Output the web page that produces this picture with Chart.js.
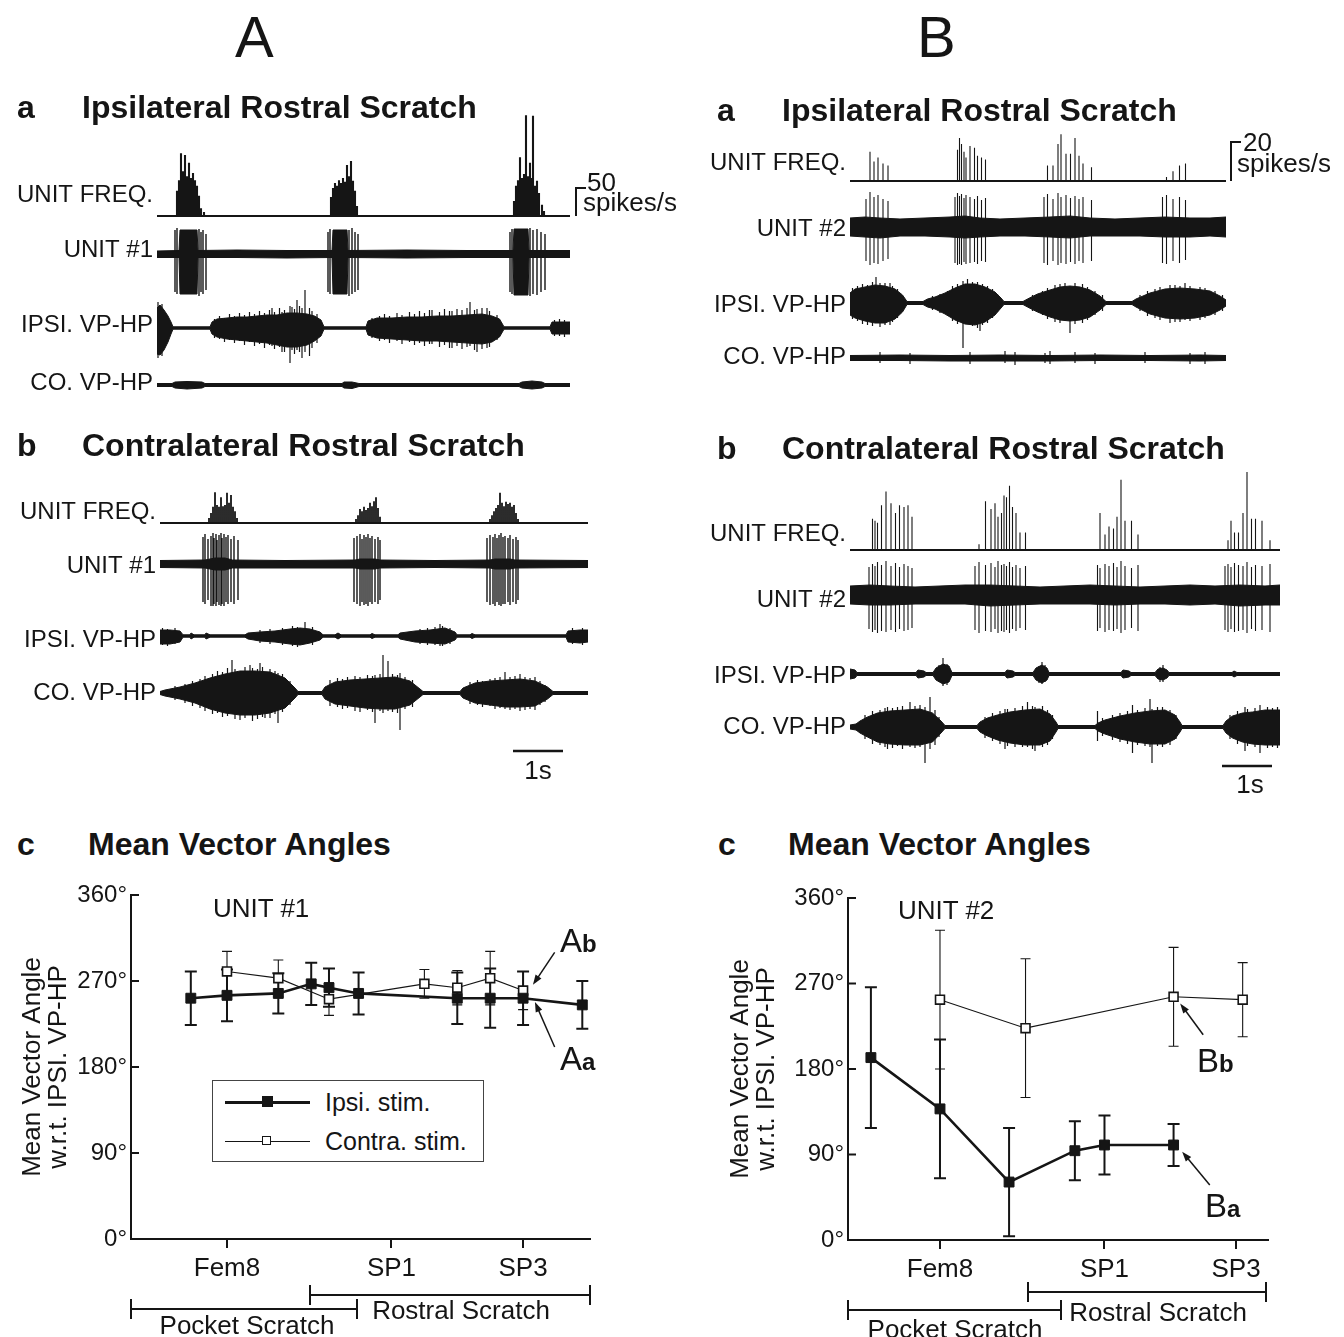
<!DOCTYPE html>
<html>
<head>
<meta charset="utf-8">
<script src="https://cdn.jsdelivr.net/npm/chart.js@4.4.1/dist/chart.umd.min.js"></script>
<style>
  html, body { margin: 0; padding: 0; background: #fff; }
  #page { position: relative; width: 1344px; height: 1337px; overflow: hidden;
          font-family: "Liberation Sans", Arial, Helvetica, sans-serif; color: #151515; }
  .t { position: absolute; white-space: nowrap; line-height: 1; }
  canvas { position: absolute; }
  .ln { position: absolute; background: #151515; }
</style>
</head>
<body>
<div id="page"></div>
<script>
const INK = '#151515';
const FONT = '"Liberation Sans", Arial, Helvetica, sans-serif';

// ---------- A a : ipsilateral rostral scratch, unit #1 (t in s) ----------
// rate spikes: [t, spikes/s]
const aaFreq = [
  [0.40,45],[0.44,64],[0.48,112],[0.52,80],[0.56,109],[0.60,71],[0.64,95],[0.68,68],[0.72,77],[0.76,64],[0.80,54],[0.84,36],[0.88,14],[0.94,7],
  [3.48,34],[3.52,50],[3.56,59],[3.60,54],[3.64,64],[3.68,59],[3.72,68],[3.76,61],[3.80,91],[3.84,71],[3.88,98],[3.92,63],[3.96,45],[4.00,18],
  [7.14,27],[7.18,54],[7.22,64],[7.26,105],[7.30,68],[7.34,75],[7.38,180],[7.42,71],[7.46,95],[7.50,68],[7.52,179],[7.56,54],[7.60,63],[7.64,41],[7.70,20],[7.74,9]
];
// envelopes: [t, up, down]   spikes: [t, up, down]
const aaUnitEnv = [
  [0,3,3.5],[0.44,3.5,3.5],[0.46,24,40],[0.80,24,40],[0.82,3.5,3.5],[1.6,4,3.5],[2.6,3.5,4],
  [3.50,3.5,3.5],[3.52,24,40],[3.80,24,40],[3.82,3.5,3.5],[5.0,4,4],[6.2,3.5,3.5],
  [7.12,3.5,3.5],[7.14,25,41],[7.42,25,41],[7.44,3.5,3.5],[8.26,3.5,3.5]
];
const aaUnitSpk = [
  [0.36,24,38],[0.40,26,40],[0.84,25,42],[0.88,22,38],[0.92,24,40],[0.98,20,36],
  [3.42,22,38],[3.46,25,40],[3.84,24,42],[3.90,26,40],[3.96,22,38],[4.02,20,36],
  [7.06,22,38],[7.10,25,40],[7.46,26,42],[7.52,24,40],[7.60,25,41],[7.68,22,38],[7.76,20,36]
];
const aaIpsiEnv = [
  [0,20,26],[0.06,23,27],[0.14,18,22],[0.22,12,14],[0.28,6,6],[0.32,1.2,1.2],
  [1.06,1.2,1.2],[1.10,6,6],[1.2,9,9],[1.4,10,11],[1.6,11,12],[1.8,11,13],[2.0,12,14],[2.2,13,15],[2.4,13,17],[2.6,15,19],[2.8,15,19],[3.0,14,17],[3.15,12,13],[3.28,8,8],[3.34,1.2,1.2],
  [4.18,1.2,1.2],[4.22,7,7],[4.4,10,10],[4.7,10,11],[5.0,11,12],[5.3,11,13],[5.6,12,13],[5.9,12,14],[6.2,13,15],[6.5,14,16],[6.7,12,14],[6.85,9,9],[6.94,1.2,1.2],
  [7.86,1.2,1.2],[7.90,6,6],[8.1,6,6],[8.26,6,6]
];
const aaIpsiSpk = [
  [0.02,26,30],[0.1,24,28],
  [1.15,9,10],[1.25,12,11],[1.35,10,14],[1.45,14,12],[1.55,12,15],[1.65,15,13],[1.75,13,17],[1.85,16,14],[1.95,14,18],[2.05,17,16],[2.15,15,20],
  [2.25,18,17],[2.3,20,18],[2.35,16,21],[2.45,20,19],[2.5,16,24],[2.55,18,24],[2.66,22,35],[2.7,21,22],[2.75,19,26],[2.8,28,22],[2.85,22,24],[2.9,20,30],
  [2.96,38,24],[3.05,20,28],[3.1,17,20],[3.2,14,15],
  [4.3,10,10],[4.45,12,13],[4.55,14,12],[4.65,12,15],[4.8,15,13],[4.9,13,16],[5.05,16,14],[5.15,14,17],[5.25,17,15],[5.35,15,18],[5.45,18,16],[5.5,18,16],
  [5.65,16,19],[5.75,19,17],[5.85,17,20],[5.9,17,20],[6.0,19,18],[6.1,18,21],[6.2,20,19],[6.26,26,18],[6.35,18,22],[6.4,19,24],[6.5,20,21],[6.6,20,20],[6.65,17,19],[6.8,13,12],
  [7.95,8,8],[8.05,9,8],[8.15,8,9]
];
const aaCoEnv = [
  [0,1.5,1.5],[0.3,1.5,1.5],[0.36,3,3],[0.6,3.5,4],[0.9,3,3],[0.96,1.5,1.5],
  [3.7,1.5,1.5],[3.74,3,3],[3.9,3,3.5],[4.04,1.5,1.5],
  [7.24,1.5,1.5],[7.3,3,3],[7.5,4,4],[7.7,3,3],[7.76,1.5,1.5],[8.26,1.5,1.5]
];

// ---------- A b : contralateral rostral scratch, unit #1 ----------
const abFreq = [
  [0.98,9],[1.02,18],[1.06,29],[1.10,55],[1.14,32],[1.18,29],[1.22,46],[1.26,30],[1.30,32],[1.34,54],[1.38,36],[1.42,50],[1.46,29],[1.50,21],[1.54,9],
  [3.92,7],[3.96,14],[4.00,25],[4.04,21],[4.08,29],[4.12,23],[4.16,27],[4.20,36],[4.24,30],[4.28,39],[4.32,46],[4.36,27],[4.40,11],
  [6.60,7],[6.64,14],[6.68,21],[6.72,27],[6.76,32],[6.80,54],[6.84,36],[6.88,30],[6.92,38],[6.96,34],[7.00,36],[7.04,29],[7.08,32],[7.12,18],[7.16,7]
];
const abUnitEnv = [
  [0,3.5,3.5],[0.9,4,4],[1.1,6,6],[1.3,6,6],[1.45,4,4],[2.5,3.5,4],[3.9,4,4],[4.0,5,5],[4.3,5,5],[4.4,4,4],
  [5.5,3.5,3.5],[6.6,4,4],[6.7,5,5],[7.0,5,5],[7.1,4,4],[8.56,3.5,3.5]
];
const abUnitSpk = [
  [0.86,27,38],[0.90,30,40],[0.96,25,36],[1.02,28,42],[1.06,31,42],[1.08,26,40],[1.12,30,42],[1.14,24,38],[1.18,29,41],[1.22,31,42],[1.24,26,40],[1.28,30,42],[1.32,27,38],[1.36,29,40],[1.42,25,38],[1.48,28,40],[1.56,24,36],
  [3.88,26,38],[3.94,28,40],[4.00,30,42],[4.04,25,38],[4.08,29,41],[4.12,27,40],[4.16,30,42],[4.20,26,38],[4.24,28,40],[4.30,25,38],[4.36,27,40],[4.40,24,36],
  [6.54,26,38],[6.60,29,41],[6.66,27,40],[6.70,30,42],[6.74,26,38],[6.78,29,41],[6.82,31,42],[6.86,27,40],[6.90,28,40],[6.96,26,38],[7.00,29,41],[7.06,25,38],[7.12,27,40],[7.16,24,36]
];
const abIpsiEnv = [
  [0,6,8],[0.2,6,8],[0.4,5,6],[0.46,1.2,1.2],[0.6,1.2,1.2],[0.62,3,3],[0.68,1.2,1.2],[0.9,1.2,1.2],[0.92,3,3],[1.0,1.2,1.2],
  [1.7,1.2,1.2],[1.76,3,3],[2.0,4,5],[2.3,5,6],[2.6,7,8],[2.8,8,9],[3.0,7,7],[3.2,4,4],[3.26,1.2,1.2],
  [3.5,1.2,1.2],[3.56,3,3],[3.62,1.2,1.2],[4.2,1.2,1.2],[4.24,2.5,2.5],[4.3,1.2,1.2],
  [4.76,1.2,1.2],[4.8,3,3],[5.1,5,6],[5.4,6,7],[5.7,8,8],[5.9,4,4],[5.94,1.2,1.2],
  [6.2,1.2,1.2],[6.24,2.5,2.5],[6.3,1.2,1.2],[8.12,1.2,1.2],[8.16,5,6],[8.4,6,7],[8.56,6,6]
];
const abIpsiSpk = [
  [0.05,8,9],[0.15,7,10],[0.3,8,8],
  [2.0,6,7],[2.2,7,8],[2.45,8,9],[2.65,10,10],[2.75,9,11],[2.9,14,8],[3.05,9,9],
  [5.2,7,8],[5.35,8,9],[5.5,9,9],[5.6,12,10],[5.65,10,10],[5.8,8,8],[8.25,8,8],[8.45,8,9]
];
const abCoEnv = [
  [0,1.5,1.5],[0.1,3,3],[0.4,6,6],[0.7,10,10],[1.0,15,16],[1.3,19,20],[1.6,22,22],[1.9,22,22],[2.2,21,20],[2.5,15,15],[2.7,5,5],[2.76,1.5,1.5],
  [3.24,1.5,1.5],[3.3,6,6],[3.5,11,11],[3.8,13,13],[4.1,14,15],[4.4,15,16],[4.7,16,16],[5.0,12,12],[5.2,4,4],[5.26,1.5,1.5],
  [6.0,1.5,1.5],[6.06,5,5],[6.3,10,10],[6.6,12,12],[6.9,13,14],[7.2,14,14],[7.5,12,13],[7.75,6,6],[7.86,1.5,1.5],[8.56,1.5,1.5]
];
const abCoSpk = [
  [0.3,7,7],[0.5,9,10],[0.65,12,13],[0.8,14,15],[0.9,17,18],[1.05,19,21],[1.15,22,20],[1.25,21,24],[1.35,25,23],[1.44,33,18],[1.5,24,26],
  [1.6,20,27],[1.7,26,25],[1.8,28,20],[1.85,25,28],[1.95,24,26],[2.0,30,22],[2.05,26,24],[2.1,18,25],[2.2,24,25],[2.3,22,21],[2.36,20,30],[2.45,19,19],[2.6,12,12],
  [3.4,13,13],[3.55,15,14],[3.65,14,16],[3.75,16,15],[3.9,17,18],[4.0,16,19],[4.15,18,17],[4.25,17,19],[4.3,18,30],[4.4,19,18],[4.46,38,20],
  [4.56,32,18],[4.65,19,19],[4.75,18,20],[4.8,20,37],[4.9,16,16],[5.05,13,14],
  [6.2,11,11],[6.35,13,12],[6.45,12,14],[6.6,14,13],[6.7,15,16],[6.8,16,15],[6.9,21,16],[7.0,16,17],[7.1,17,16],[7.2,19,18],[7.3,16,17],[7.4,15,16],[7.5,16,17],[7.6,12,12],[7.7,8,9]
];

// ---------- B a : ipsilateral rostral scratch, unit #2 ----------
const baFreq = [
  [0.40,15],[0.48,10],[0.56,12],[0.66,9],[0.76,8],
  [2.15,16],[2.19,22],[2.23,19],[2.28,15],[2.32,12],[2.40,18],[2.49,17],[2.55,13],[2.63,12],[2.71,11],
  [3.95,8],[4.06,8],[4.16,19],[4.22,24],[4.32,14],[4.41,14],[4.50,22],[4.58,13],[4.66,9],[4.83,7],
  [6.33,2],[6.46,5],[6.59,8],[6.71,9]
];
const baUnitEnv = [
  [0,9,9],[0.3,10,10],[0.6,9,11],[1.0,8,9],[1.5,9,9],[2.0,10,10],[2.3,11,11],[2.6,9,10],[3.0,8,9],[3.5,9,9],
  [4.0,10,10],[4.4,11,11],[4.8,9,9],[5.3,8,9],[5.8,9,9],[6.3,10,10],[6.8,9,10],[7.2,9,9],[7.52,10,10]
];
const baUnitSpk = [
  [0.32,28,34],[0.40,35,38],[0.48,30,36],[0.56,32,37],[0.66,28,34],[0.76,26,32],
  [2.10,30,36],[2.15,34,38],[2.19,31,37],[2.23,33,38],[2.28,29,35],[2.32,32,37],[2.40,30,36],[2.49,28,35],[2.55,31,37],[2.63,27,34],[2.71,29,35],
  [3.88,30,36],[3.95,33,38],[4.06,28,34],[4.16,34,38],[4.22,30,36],[4.32,32,37],[4.41,29,35],[4.50,31,37],[4.58,28,34],[4.66,30,36],[4.83,27,34],
  [6.25,30,36],[6.33,32,37],[6.46,28,34],[6.59,30,36],[6.71,27,33]
];
const baIpsiEnv = [
  [0,10,12],[0.1,14,15],[0.3,16,18],[0.5,18,20],[0.7,17,20],[0.9,14,16],[1.05,8,9],[1.14,1.5,1.5],
  [1.46,1.5,1.5],[1.55,4,4],[1.7,6,6],[1.9,10,11],[2.1,15,17],[2.3,19,21],[2.5,19,22],[2.7,16,19],[2.9,11,12],[3.02,5,5],[3.08,1.5,1.5],
  [3.46,1.5,1.5],[3.55,4,4],[3.75,9,9],[4.0,13,14],[4.2,16,17],[4.4,17,18],[4.6,16,17],[4.8,13,14],[5.0,7,7],[5.12,1.5,1.5],
  [5.64,1.5,1.5],[5.72,4,4],[6.0,10,11],[6.3,14,15],[6.6,15,16],[6.9,14,15],[7.2,12,12],[7.4,7,7],[7.52,3,3]
];
const baIpsiSpk = [
  [0.05,15,16],[0.15,17,18],[0.25,19,21],[0.35,18,22],[0.45,21,23],[0.52,26,14],[0.6,20,24],[0.7,20,22],[0.8,20,22],[0.85,17,19],[0.95,14,15],
  [1.65,7,7],[1.8,9,10],[1.95,12,13],[2.05,17,18],[2.15,19,21],[2.26,22,45],[2.35,24,18],[2.45,21,23],[2.55,21,25],[2.6,16,28],[2.65,19,22],[2.75,17,20],[2.85,14,15],[2.95,9,9],
  [3.65,8,8],[3.85,12,12],[3.95,15,16],[4.1,18,19],[4.2,19,20],[4.3,20,16],[4.4,14,30],[4.5,20,21],[4.65,19,20],[4.75,16,17],[4.9,12,12],[5.05,8,8],
  [5.8,8,8],[5.95,12,13],[6.1,14,15],[6.2,16,17],[6.4,18,20],[6.5,18,19],[6.6,17,19],[6.7,20,17],[6.8,17,18],[7.0,16,17],[7.1,15,15],[7.3,12,12],[7.45,8,8]
];
const baCoEnv = [[0,2.5,2.5],[1.0,3,2.5],[2.0,2.5,3],[3.0,3,3],[4.0,2.5,3],[5.0,3,2.5],[6.0,2.5,2.5],[7.0,3,3],[7.52,2.5,2.5]];
const baCoSpk = [[0.6,6,5],[1.2,5,6],[2.4,6,6],[3.1,7,5],[3.3,6,7],[3.9,5,5],[4.0,7,6],[4.5,6,5],[4.9,5,6],[5.9,6,5],[6.8,5,6],[7.1,6,6]];

// ---------- B b : contralateral rostral scratch, unit #2 ----------
const bbFreq = [
  [0.45,16],[0.50,15],[0.55,14],[0.63,23],[0.72,30],[0.82,24],[0.91,19],[0.99,23],[1.08,22],[1.16,23],[1.24,17],
  [2.58,3],[2.71,25],[2.82,21],[2.90,24],[2.96,17],[3.03,19],[3.08,28],[3.13,27],[3.19,33],[3.25,22],[3.32,19],[3.40,9],[3.51,9],
  [5.00,19],[5.10,8],[5.18,12],[5.27,11],[5.34,17],[5.42,36],[5.50,15],[5.63,15],[5.76,8],
  [7.56,5],[7.62,15],[7.69,9],[7.77,9],[7.86,19],[7.94,40],[8.03,16],[8.11,16],[8.24,15],[8.40,5]
];
const bbUnitEnv = [
  [0,9,9],[0.4,10,10],[0.8,9,10],[1.3,8,9],[1.8,9,9],[2.3,10,9],[2.8,10,11],[3.3,9,10],[3.8,8,9],[4.3,9,9],
  [4.8,10,9],[5.3,9,10],[5.8,8,9],[6.3,9,9],[6.8,10,10],[7.3,9,9],[7.8,10,11],[8.3,9,10],[8.6,10,10]
];
const bbUnitSpk = [
  [0.38,28,34],[0.45,31,37],[0.50,29,35],[0.55,33,38],[0.63,30,36],[0.72,34,37],[0.82,29,35],[0.91,32,37],[0.99,28,34],[1.08,31,36],[1.16,29,35],[1.24,27,33],
  [2.50,29,35],[2.58,33,38],[2.71,30,36],[2.82,32,37],[2.90,28,34],[2.96,34,38],[3.03,30,36],[3.08,31,37],[3.13,29,35],[3.19,33,38],[3.25,28,34],[3.32,30,36],[3.40,27,33],[3.51,29,35],
  [4.95,30,36],[5.00,27,33],[5.10,31,37],[5.18,29,35],[5.27,32,36],[5.34,28,34],[5.42,34,38],[5.50,29,35],[5.63,27,33],[5.76,30,36],
  [7.50,29,35],[7.56,31,37],[7.62,28,34],[7.69,32,37],[7.77,30,36],[7.86,29,35],[7.94,33,38],[8.03,28,34],[8.11,30,36],[8.24,29,35],[8.40,31,37]
];
const bbIpsiEnv = [
  [0,5,5],[0.1,4,4],[0.14,1.5,1.5],[1.32,1.5,1.5],[1.36,4,4],[1.48,3,3],[1.52,1.5,1.5],
  [1.66,1.5,1.5],[1.72,6,6],[1.86,10,10],[1.98,8,8],[2.04,1.5,1.5],
  [3.1,1.5,1.5],[3.14,4,4],[3.26,3,3],[3.3,1.5,1.5],[3.66,1.5,1.5],[3.72,6,6],[3.84,9,9],[3.94,6,6],[3.98,1.5,1.5],
  [5.42,1.5,1.5],[5.46,4,4],[5.58,3,3],[5.62,1.5,1.5],[6.1,1.5,1.5],[6.16,5,5],[6.26,6,6],[6.34,4,4],[6.38,1.5,1.5],
  [7.64,1.5,1.5],[7.68,3,3],[7.74,1.5,1.5],[8.6,1.5,1.5]
];
const bbIpsiSpk = [[1.78,9,8],[1.86,16,12],[1.94,10,11],[3.78,8,9],[3.84,12,10],[3.9,9,8],[6.2,7,8],[6.26,9,8]];
const bbCoEnv = [
  [0,2,2],[0.12,3,3],[0.2,6,6],[0.35,10,10],[0.55,14,15],[0.8,16,17],[1.1,17,18],[1.4,18,18],[1.65,14,15],[1.82,6,6],[1.9,1.5,1.5],
  [2.54,1.5,1.5],[2.6,5,5],[2.75,9,9],[2.95,12,13],[3.2,15,16],[3.5,17,18],[3.8,18,18],[4.0,13,14],[4.12,5,5],[4.16,1.5,1.5],
  [4.9,1.5,1.5],[4.96,4,4],[5.1,7,7],[5.4,11,12],[5.7,14,15],[6.0,16,17],[6.3,17,17],[6.5,12,12],[6.6,5,5],[6.64,1.5,1.5],
  [7.46,1.5,1.5],[7.52,6,6],[7.65,11,11],[7.85,14,15],[8.05,15,17],[8.3,17,18],[8.6,17,18]
];
const bbCoSpk = [
  [0.3,12,12],[0.45,16,17],[0.6,17,18],[0.7,19,20],[0.75,20,22],[0.85,19,21],[0.95,20,19],[1.05,21,22],[1.2,25,20],[1.3,21,21],[1.4,22,20],[1.5,20,36],[1.6,30,22],[1.7,17,18],[1.78,10,10],
  [2.7,10,11],[2.85,14,14],[3.0,16,17],[3.1,18,22],[3.15,18,19],[3.3,19,20],[3.45,21,20],[3.55,25,20],[3.65,21,22],[3.7,20,24],[3.85,21,20],[3.95,17,18],[4.05,12,12],
  [4.95,16,14],[5.05,9,9],[5.25,12,13],[5.4,14,15],[5.55,16,17],[5.65,22,26],[5.75,17,18],[5.9,19,19],[6.0,28,20],[6.04,18,36],[6.15,20,19],[6.25,20,20],[6.4,17,18],[6.52,12,12],
  [7.6,12,12],[7.75,16,17],[7.9,20,24],[7.95,18,19],[8.1,19,20],[8.2,22,26],[8.35,20,21],[8.45,19,20],[8.55,20,21]
];

// ---------- c : mean vector angles (deg), recording sites on a segment axis ----------
const segTicks = [0, 2.5, 4.5];
const segLabels = ['Fem8', 'SP1', 'SP3'];

const acIpsiPos = [-0.55, 0, 0.78, 1.28, 1.55, 2.0, 3.5, 4.0, 4.5, 5.4];
const acIpsiDeg = [252, 255, 257, 267, 263, 257, 252, 252, 252, 245];
const acIpsiErr = [28, 27, 21, 22, 20, 22, 27, 31, 28, 25];
const acContraPos = [0, 0.78, 1.55, 3.0, 3.5, 4.0, 4.5];
const acContraDeg = [280, 273, 251, 267, 263, 273, 260];
const acContraErr = [21, 19, 17, 15, 18, 28, 20];

const bcIpsiPos = [-1.05, 0, 1.05, 2.05, 2.5, 3.55];
const bcIpsiDeg = [192, 138, 61, 94, 100, 100];
const bcIpsiErr = [74, 73, 57, 31, 31, 22];
const bcContraPos = [0, 1.3, 3.55, 4.6];
const bcContraDeg = [253, 223, 256, 253];
const bcContraErr = [73, 73, 52, 39];

Chart.defaults.font.family = FONT;
Chart.defaults.color = INK;
Chart.defaults.animation = false;

const page = document.getElementById('page');

function addText(str, x, base, size, o = {}) {
  const d = document.createElement('div');
  d.className = 't';
  if (o.html) d.innerHTML = str; else d.textContent = str;
  d.style.fontSize = size + 'px';
  d.style.top = (base - 0.8465 * size).toFixed(1) + 'px';
  d.style.left = x + 'px';
  if (o.bold) d.style.fontWeight = 'bold';
  if (o.align === 'center') d.style.transform = 'translateX(-50%)';
  if (o.align === 'right') d.style.transform = 'translateX(-100%)';
  page.appendChild(d);
  return d;
}

function addLine(x, y, w, h) {
  const d = document.createElement('div');
  d.className = 'ln';
  Object.assign(d.style, { left: x + 'px', top: y + 'px', width: w + 'px', height: h + 'px' });
  page.appendChild(d);
}

function makeCanvas(left, top, w, h) {
  const c = document.createElement('canvas');
  c.width = w; c.height = h;
  Object.assign(c.style, { left: left + 'px', top: top + 'px', width: w + 'px', height: h + 'px' });
  page.appendChild(c);
  return c;
}

// scale bars for the trace panels (rate bracket and 1 s bar)
const scaleBars = {
  id: 'scaleBars',
  afterDraw(chart, args, opts) {
    const bars = opts.bars || [];
    const { ctx, chartArea, scales } = chart;
    ctx.save();
    ctx.strokeStyle = INK;
    ctx.lineWidth = 2;
    bars.forEach(b => {
      ctx.beginPath();
      if (b.kind === 'rate') {
        const off = b.base - opts.top;
        const x = chartArea.right + b.dx;
        const y0 = scales.y.getPixelForValue(off);
        const y1 = scales.y.getPixelForValue(off - b.value * b.gain);
        ctx.moveTo(x, y0); ctx.lineTo(x, y1); ctx.lineTo(x + 10, y1);
      } else {
        const y = scales.y.getPixelForValue(b.y - opts.top);
        ctx.lineWidth = 2.5;
        ctx.moveTo(scales.x.getPixelForValue(b.t0), y);
        ctx.lineTo(scales.x.getPixelForValue(b.t0 + b.len), y);
      }
      ctx.stroke();
    });
    ctx.restore();
  }
};

function tracePanel(p) {
  const cv = makeCanvas(p.left, p.top, p.width, p.height);
  const datasets = [];
  const line = (data, extra) => Object.assign({
    data, borderColor: INK, backgroundColor: INK, borderWidth: 1, pointRadius: 0,
    tension: 0, fill: false, borderJoinStyle: 'miter'
  }, extra);

  p.rows.forEach(r => {
    const off = r.base - p.top;
    datasets.push(line([{ x: 0, y: off }, { x: p.T, y: off }], { borderWidth: 2.2 }));
    if (r.env) {
      datasets.push(line(r.env.map(e => ({ x: e[0], y: off - e[1] * r.gain })), { fill: '+1' }));
      datasets.push(line(r.env.map(e => ({ x: e[0], y: off + e[2] * r.gain }))));
    }
    const spk = r.freq || r.spk;
    if (spk) {
      const pts = [];
      spk.forEach(s => {
        pts.push({ x: s[0], y: off - s[1] * r.gain });
        pts.push({ x: s[0], y: off + (s[2] || 0) * r.gain });
        pts.push({ x: s[0], y: null });
      });
      datasets.push(line(pts, { borderWidth: r.lw || 1.2 }));
    }
  });

  const labelAt = v => {
    const r = p.rows.find(q => Math.abs(q.labelY - p.top - v) < 0.01);
    return r ? r.label : '';
  };

  new Chart(cv, {
    type: 'line',
    data: { datasets },
    options: {
      responsive: false, devicePixelRatio: 1, events: [],
      layout: { padding: { left: 0, top: 0, bottom: 0, right: p.width - (p.plotRight - p.left) } },
      scales: {
        x: { type: 'linear', min: 0, max: p.T, display: false },
        y: {
          type: 'linear', min: 0, max: p.height, reverse: true,
          grid: { display: false, drawTicks: false },
          border: { display: false },
          afterFit: s => { s.width = p.plotLeft - p.left; s.paddingTop = 0; s.paddingBottom = 0; },
          afterBuildTicks: s => { s.ticks = p.rows.map(r => ({ value: r.labelY - p.top })); },
          ticks: { autoSkip: false, padding: 4, color: INK, font: { size: 24 }, callback: v => labelAt(v) }
        }
      },
      plugins: {
        legend: { display: false }, tooltip: { enabled: false },
        scaleBars: { top: p.top, bars: p.bars }
      }
    },
    plugins: [scaleBars]
  });
}

const panels = [
  { left: 0, top: 105, width: 690, height: 300, plotLeft: 157, plotRight: 570, T: 8.26,
    rows: [
      { label: 'UNIT FREQ.', labelY: 195, base: 216, gain: 0.56, freq: aaFreq, lw: 2.1 },
      { label: 'UNIT #1', labelY: 250, base: 254, gain: 1, env: aaUnitEnv, spk: aaUnitSpk, lw: 1.4 },
      { label: 'IPSI. VP-HP', labelY: 325, base: 328, gain: 1, env: aaIpsiEnv, spk: aaIpsiSpk },
      { label: 'CO. VP-HP', labelY: 383, base: 385, gain: 1, env: aaCoEnv }
    ],
    bars: [{ kind: 'rate', base: 216, value: 50, gain: 0.56, dx: 6 }] },
  { left: 0, top: 460, width: 690, height: 300, plotLeft: 160, plotRight: 588, T: 8.56,
    rows: [
      { label: 'UNIT FREQ.', labelY: 512, base: 523, gain: 0.56, freq: abFreq, lw: 1.8 },
      { label: 'UNIT #1', labelY: 566, base: 564, gain: 1, env: abUnitEnv, spk: abUnitSpk, lw: 1.4 },
      { label: 'IPSI. VP-HP', labelY: 640, base: 636, gain: 1, env: abIpsiEnv, spk: abIpsiSpk },
      { label: 'CO. VP-HP', labelY: 693, base: 693, gain: 1, env: abCoEnv, spk: abCoSpk }
    ],
    bars: [{ kind: 'time', t0: 7.06, len: 1, y: 751 }] },
  { left: 690, top: 125, width: 654, height: 260, plotLeft: 850, plotRight: 1226, T: 7.52,
    rows: [
      { label: 'UNIT FREQ.', labelY: 163, base: 181, gain: 1.95, freq: baFreq, lw: 1.1 },
      { label: 'UNIT #2', labelY: 229, base: 227, gain: 1, env: baUnitEnv, spk: baUnitSpk, lw: 1.1 },
      { label: 'IPSI. VP-HP', labelY: 305, base: 303, gain: 1, env: baIpsiEnv, spk: baIpsiSpk },
      { label: 'CO. VP-HP', labelY: 357, base: 358, gain: 1, env: baCoEnv, spk: baCoSpk }
    ],
    bars: [{ kind: 'rate', base: 181, value: 20, gain: 1.95, dx: 5 }] },
  { left: 690, top: 460, width: 654, height: 335, plotLeft: 850, plotRight: 1280, T: 8.6,
    rows: [
      { label: 'UNIT FREQ.', labelY: 534, base: 550, gain: 1.95, freq: bbFreq, lw: 1.1 },
      { label: 'UNIT #2', labelY: 600, base: 595, gain: 1, env: bbUnitEnv, spk: bbUnitSpk, lw: 1.1 },
      { label: 'IPSI. VP-HP', labelY: 676, base: 674, gain: 1, env: bbIpsiEnv, spk: bbIpsiSpk },
      { label: 'CO. VP-HP', labelY: 727, base: 727, gain: 1, env: bbCoEnv, spk: bbCoSpk }
    ],
    bars: [{ kind: 'time', t0: 7.44, len: 1, y: 766 }] }
];
panels.forEach(tracePanel);

// ---------- angle charts ----------
const errorBars = {
  id: 'errorBars',
  beforeDatasetsDraw(chart) {
    const { ctx, scales } = chart;
    ctx.save();
    ctx.strokeStyle = INK;
    chart.data.datasets.forEach((ds, i) => {
      const meta = chart.getDatasetMeta(i);
      ctx.lineWidth = ds.errWidth;
      ds.errors.forEach((e, j) => {
        const x = meta.data[j].x;
        const yHi = scales.y.getPixelForValue(ds.data[j].y + e);
        const yLo = scales.y.getPixelForValue(ds.data[j].y - e);
        ctx.beginPath();
        ctx.moveTo(x, yHi); ctx.lineTo(x, yLo);
        ctx.moveTo(x - ds.capHalf, yHi); ctx.lineTo(x + ds.capHalf, yHi);
        ctx.moveTo(x - ds.capHalf, yLo); ctx.lineTo(x + ds.capHalf, yLo);
        ctx.stroke();
      });
    });
    ctx.restore();
  },
  afterDraw(chart, args, opts) {
    const { ctx, scales, chartArea } = chart;
    ctx.save();
    ctx.strokeStyle = INK; ctx.fillStyle = INK;
    // inward y ticks
    ctx.lineWidth = 2;
    scales.y.ticks.forEach(t => {
      const y = scales.y.getPixelForValue(t.value);
      ctx.beginPath(); ctx.moveTo(chartArea.left, y); ctx.lineTo(chartArea.left + 8, y); ctx.stroke();
    });
    // label arrows
    ctx.lineWidth = 1.5;
    (opts.arrows || []).forEach(a => {
      const x0 = scales.x.getPixelForValue(a.from[0]), y0 = scales.y.getPixelForValue(a.from[1]);
      const x1 = scales.x.getPixelForValue(a.to[0]), y1 = scales.y.getPixelForValue(a.to[1]);
      const ang = Math.atan2(y1 - y0, x1 - x0);
      ctx.beginPath(); ctx.moveTo(x0, y0); ctx.lineTo(x1 - 6 * Math.cos(ang), y1 - 6 * Math.sin(ang)); ctx.stroke();
      ctx.beginPath();
      ctx.moveTo(x1, y1);
      ctx.lineTo(x1 - 10 * Math.cos(ang) + 3.5 * Math.sin(ang), y1 - 10 * Math.sin(ang) - 3.5 * Math.cos(ang));
      ctx.lineTo(x1 - 10 * Math.cos(ang) - 3.5 * Math.sin(ang), y1 - 10 * Math.sin(ang) + 3.5 * Math.cos(ang));
      ctx.closePath(); ctx.fill();
    });
    ctx.restore();
  }
};

function anglePanel(c) {
  const cv = makeCanvas(c.left, c.top, c.width, c.height);
  const pts = (pos, deg) => pos.map((x, i) => ({ x, y: deg[i] }));
  new Chart(cv, {
    type: 'line',
    data: {
      datasets: [
        { label: 'Ipsi. stim.', data: pts(c.ipsiPos, c.ipsiDeg), errors: c.ipsiErr, errWidth: 2, capHalf: 6,
          borderColor: INK, backgroundColor: INK, borderWidth: 2.6, tension: 0,
          pointStyle: 'rect', pointRadius: 7, pointBackgroundColor: INK, pointBorderColor: INK, pointBorderWidth: 1 },
        { label: 'Contra. stim.', data: pts(c.contraPos, c.contraDeg), errors: c.contraErr, errWidth: 1.1, capHalf: 5,
          borderColor: INK, backgroundColor: '#fff', borderWidth: 1.1, tension: 0,
          pointStyle: 'rect', pointRadius: 6.3, pointBackgroundColor: '#fff', pointBorderColor: INK, pointBorderWidth: 1.6 }
      ]
    },
    options: {
      responsive: false, devicePixelRatio: 1, events: [],
      layout: { padding: { left: 0, bottom: 0, top: c.axisTop - c.top, right: c.left + c.width - c.axisRight } },
      scales: {
        x: {
          type: 'linear', min: c.xMin, max: c.xMax,
          afterFit: s => { s.height = c.height - (c.axisBottom - c.top); },
          afterBuildTicks: s => { s.ticks = segTicks.map(v => ({ value: v })); },
          grid: { drawOnChartArea: false, drawTicks: true, tickLength: 9, color: INK, lineWidth: 2 },
          border: { display: true, color: INK, width: 2 },
          ticks: { autoSkip: false, maxRotation: 0, padding: 5, color: INK, font: { size: 26 },
                   callback: v => segLabels[segTicks.indexOf(v)] }
        },
        y: {
          type: 'linear', min: 0, max: 360,
          afterFit: s => { s.width = c.axisLeft - c.left; },
          grid: { display: false, drawTicks: false },
          border: { display: true, color: INK, width: 2 },
          ticks: { stepSize: 90, padding: 4, color: INK, font: { size: 24 }, callback: v => v + '°' },
          title: { display: true, text: ['Mean Vector Angle', 'w.r.t. IPSI. VP-HP'], color: INK,
                   font: { size: 26, lineHeight: 1 }, padding: { top: c.titlePad, bottom: 0 } }
        }
      },
      plugins: { legend: { display: false }, tooltip: { enabled: false }, errorBars: { arrows: c.arrows } }
    },
    plugins: [errorBars]
  });
}

anglePanel({ left: 0, top: 870, width: 620, height: 420, axisLeft: 131, axisRight: 590, axisTop: 895, axisBottom: 1239,
  xMin: -1.459, xMax: 5.517, titlePad: 20,
  ipsiPos: acIpsiPos, ipsiDeg: acIpsiDeg, ipsiErr: acIpsiErr,
  contraPos: acContraPos, contraDeg: acContraDeg, contraErr: acContraErr,
  arrows: [{ from: [4.98, 300], to: [4.65, 266] }, { from: [4.98, 201], to: [4.68, 248] }] });

anglePanel({ left: 700, top: 870, width: 600, height: 420, axisLeft: 848, axisRight: 1268, axisTop: 898, axisBottom: 1240,
  xMin: -1.398, xMax: 4.985, titlePad: 28,
  ipsiPos: bcIpsiPos, ipsiDeg: bcIpsiDeg, ipsiErr: bcIpsiErr,
  contraPos: bcContraPos, contraDeg: bcContraDeg, contraErr: bcContraErr,
  arrows: [{ from: [4.0, 216], to: [3.65, 249] }, { from: [4.1, 58], to: [3.68, 93] }] });

// ---------- headings and labels ----------
addText('A', 235, 57, 58);
addText('B', 917, 57, 58);
addText('a', 17, 118, 32, { bold: true });
addText('Ipsilateral Rostral Scratch', 82, 118, 32, { bold: true });
addText('a', 717, 121, 32, { bold: true });
addText('Ipsilateral Rostral Scratch', 782, 121, 32, { bold: true });
addText('b', 17, 456, 32, { bold: true });
addText('Contralateral Rostral Scratch', 82, 456, 32, { bold: true });
addText('b', 717, 459, 32, { bold: true });
addText('Contralateral Rostral Scratch', 782, 459, 32, { bold: true });
addText('c', 17, 855, 32, { bold: true });
addText('Mean Vector Angles', 88, 855, 32, { bold: true });
addText('c', 718, 855, 32, { bold: true });
addText('Mean Vector Angles', 788, 855, 32, { bold: true });

addText('50', 587, 191, 26);
addText('spikes/s', 583, 211, 26);
addText('20', 1243, 151, 26);
addText('spikes/s', 1237, 172, 26);
addText('1s', 538, 779, 26, { align: 'center' });
addText('1s', 1250, 793, 26, { align: 'center' });

addText('UNIT #1', 213, 917, 26);
addText('UNIT #2', 898, 919, 26);
addText('A<b style="font-size:24px">b</b>', 560, 952, 33, { html: true });
addText('A<b style="font-size:24px">a</b>', 560, 1070, 33, { html: true });
addText('B<b style="font-size:24px">b</b>', 1197, 1072, 33, { html: true });
addText('B<b style="font-size:24px">a</b>', 1205, 1217, 33, { html: true });

// legend box (panel A c)
const box = document.createElement('div');
Object.assign(box.style, { position: 'absolute', left: '212px', top: '1080px', width: '270px', height: '80px',
  border: '1.5px solid #444', background: '#fff' });
page.appendChild(box);
addLine(225, 1101, 85, 2.6);
addLine(262, 1096, 11, 11);
addLine(225, 1141, 85, 1.1);
const open = document.createElement('div');
Object.assign(open.style, { position: 'absolute', left: '262px', top: '1136px', width: '7px', height: '7px',
  border: '1.6px solid ' + INK, background: '#fff' });
page.appendChild(open);
addText('Ipsi. stim.', 325, 1111, 25);
addText('Contra. stim.', 325, 1150, 25);

// scratch-form brackets under the site axis
function bracket(x0, x1, y) {
  addLine(x0, y - 1, x1 - x0, 2.2);
  addLine(x0 - 1, y - 10, 2.2, 20);
  addLine(x1 - 1, y - 10, 2.2, 20);
}
bracket(310, 590, 1295);
bracket(131, 357, 1309);
bracket(1028, 1266, 1292);
bracket(848, 1061, 1310);
addText('Rostral Scratch', 461, 1319, 26, { align: 'center' });
addText('Pocket Scratch', 247, 1334, 26, { align: 'center' });
addText('Rostral Scratch', 1158, 1321, 26, { align: 'center' });
addText('Pocket Scratch', 955, 1338, 26, { align: 'center' });
</script>
</body>
</html>
